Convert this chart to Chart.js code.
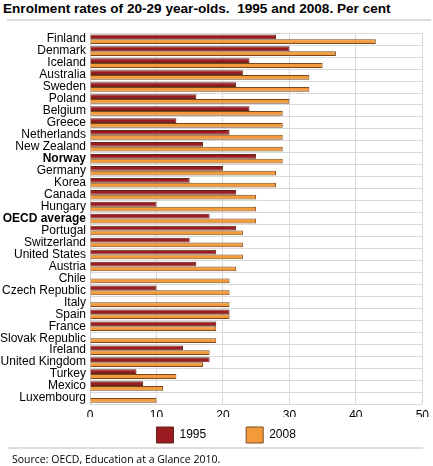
<!DOCTYPE html>
<html>
<head>
<meta charset="utf-8">
<script src="https://cdn.jsdelivr.net/npm/chart.js@4/dist/chart.umd.min.js"></script>
<style>
  body { margin: 0; background: #fff; width: 433px; height: 466px; position: relative; overflow: hidden; }
  #title { position: absolute; left: 3px; top: 1px; font: bold 13.6px "Liberation Sans", Arial, sans-serif; color: #000; white-space: pre; }
  #topline { position: absolute; left: 7px; top: 19px; width: 424px; height: 2px; background: #ddd; }
  #wrap { position: absolute; left: 0; top: 22px; width: 433px; height: 431px; }
  #botline { position: absolute; left: 8px; top: 447px; width: 415px; height: 2px; background: #ddd; }
  #source { position: absolute; left: 12px; top: 452px; font: 10.5px "Open Sans", "Noto Sans", sans-serif; color: #000; white-space: nowrap; }
</style>
</head>
<body>
<div id="title">Enrolment rates of 20-29 year-olds.  1995 and 2008. Per cent</div>
<div id="topline"></div>
<div id="wrap"><canvas id="chart"></canvas></div>
<div id="botline"></div>
<div id="source">Source: OECD, Education at a Glance 2010.</div>
<script>
// Countries, top to bottom
const countries = ['Finland', 'Denmark', 'Iceland', 'Australia', 'Sweden', 'Poland', 'Belgium', 'Greece',
    'Netherlands', 'New Zealand', 'Norway', 'Germany', 'Korea', 'Canada', 'Hungary', 'OECD average',
    'Portugal', 'Switzerland', 'United States', 'Austria', 'Chile', 'Czech Republic', 'Italy', 'Spain',
    'France', 'Slovak Republic', 'Ireland', 'United Kingdom', 'Turkey', 'Mexico', 'Luxembourg'];

// Per cent enrolled, 1995 (null = no data)
const rates1995 = [28, 30, 24, 23, 22, 16, 24, 13, 21, 17, 25, 20, 15, 22, 10, 18,
    22, 15, 19, 16, null, 10, null, 21, 19, null, 14, 18, 7, 8, null];

// Per cent enrolled, 2008
const rates2008 = [43, 37, 35, 33, 33, 30, 29, 29, 29, 29, 29, 28, 28, 25, 25, 25,
    23, 23, 23, 22, 21, 21, 21, 21, 19, 19, 18, 17, 13, 11, 10];

const seriesNames = ['1995', '2008'];
const xTicks = [0, 10, 20, 30, 40, 50];

const boldRows = ['Norway', 'OECD average'];
const labelFont = 'Liberation Sans, Arial, sans-serif';

// trailing spaces just push the legend items apart, like the original
const pad = n => ' '.repeat(n);

const ctx = document.getElementById('chart').getContext('2d');
new Chart(ctx, {
    type: 'bar',
    data: {
        labels: countries,
        datasets: [{
            label: seriesNames[0] + pad(9),
            data: rates1995,
            backgroundColor: '#9b1b20',
            borderColor: '#5e2616',
            borderWidth: 1
        }, {
            label: seriesNames[1] + pad(18),
            data: rates2008,
            backgroundColor: '#f39a3b',
            borderColor: '#7a4a1c',
            borderWidth: 1
        }]
    },
    options: {
        indexAxis: 'y',
        responsive: true,
        maintainAspectRatio: false,
        animation: false,
        datasets: {
            bar: { categoryPercentage: 0.8, barPercentage: 1.0 }
        },
        layout: { padding: { top: 5, right: 7, left: 0, bottom: 0 } },
        scales: {
            x: {
                min: xTicks[0],
                max: xTicks[xTicks.length - 1],
                afterBuildTicks: s => { s.ticks = xTicks.map(v => ({ value: v })); },
                afterFit: s => { s.height = 13; },
                grid: { color: '#d9d9d9', drawTicks: false },
                border: { display: false },
                ticks: { padding: 4, color: '#000', font: { family: labelFont, size: 12 } }
            },
            y: {
                afterFit: s => { s.width = 90; },
                grid: { color: '#d9d9d9', drawTicks: false },
                border: { color: '#c8c8c8' },
                ticks: {
                    padding: 4,
                    color: '#000',
                    autoSkip: false,
                    font: c => ({
                        family: labelFont,
                        size: 12,
                        weight: boldRows.includes(countries[c.index]) ? 'bold' : 'normal'
                    })
                }
            }
        },
        plugins: {
            legend: {
                position: 'bottom',
                fullSize: false,
                labels: {
                    boxWidth: 17,
                    boxHeight: 16,
                    padding: 10,
                    color: '#000',
                    font: { family: labelFont, size: 12 }
                }
            },
            tooltip: { enabled: false }
        }
    }
});
</script>
</body>
</html>
